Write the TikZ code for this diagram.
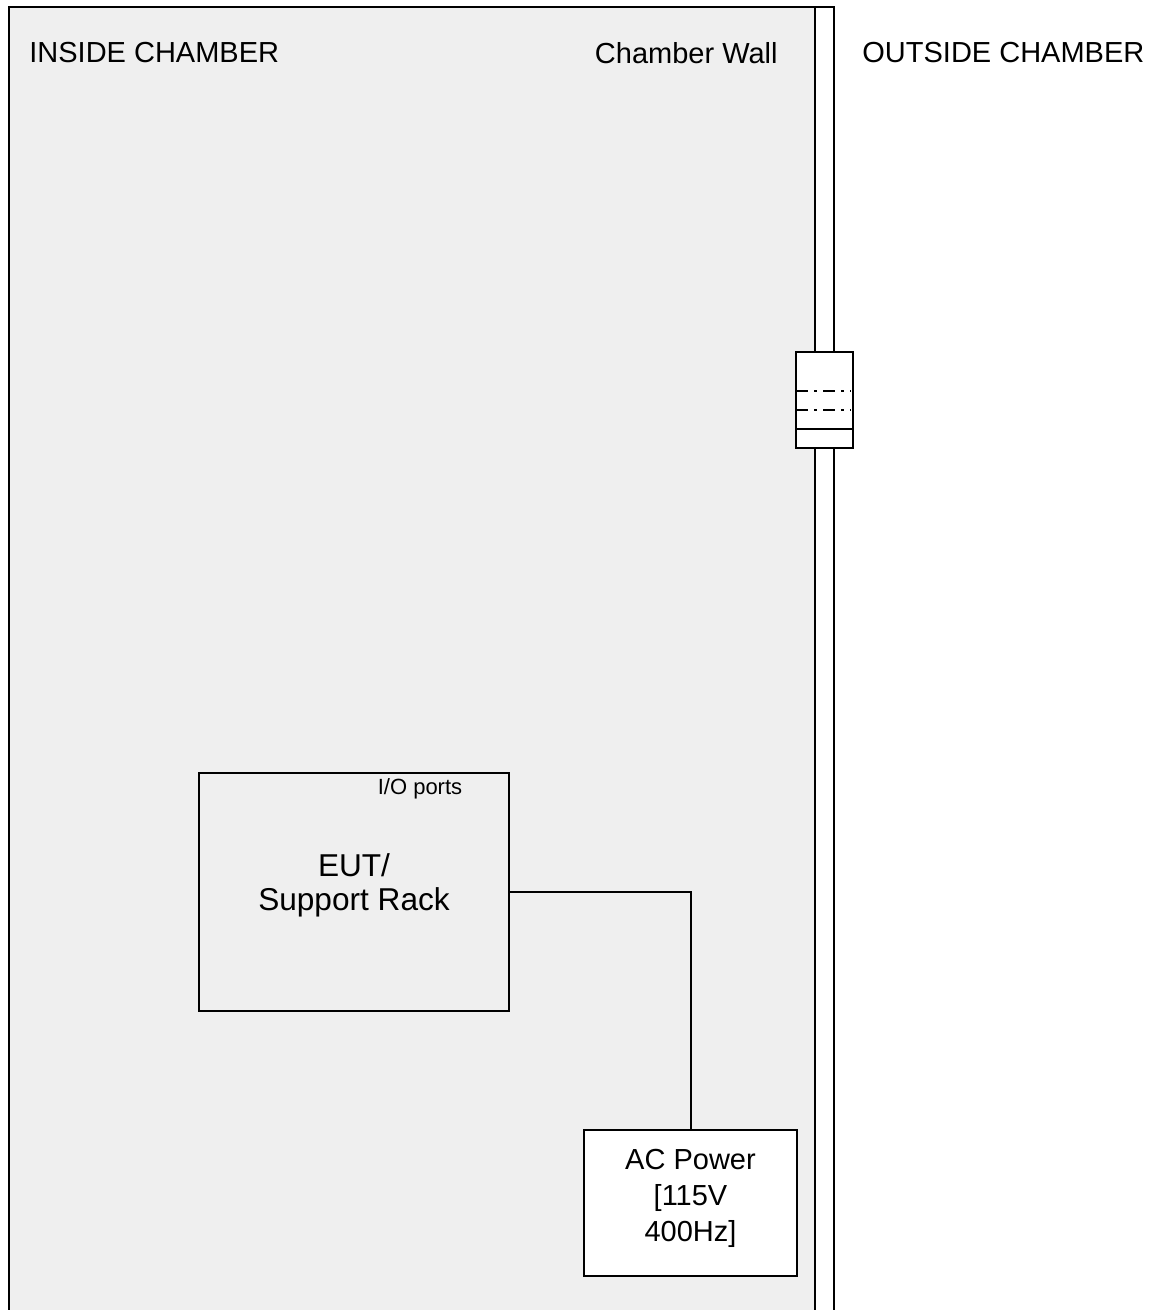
\documentclass[tikz,border=0pt]{standalone}
\usepackage{fontspec}
\setmainfont{Liberation Sans}
\usetikzlibrary{positioning,calc}

\definecolor{chambergray}{HTML}{EFEFEF}

\begin{document}
\begin{tikzpicture}[
    x=0.5pt, y=-0.5pt,
    box/.style={rectangle, draw, line width=1pt, align=center, inner sep=0pt},
    heading/.style={font=\fontsize{14.5}{17}\selectfont, inner sep=0pt},
    wire/.style={draw, line width=1pt},
    dashdot/.style={line width=1pt, dash pattern=on 6pt off 3pt on 1.5pt off 3pt}
]
\useasboundingbox (0,0) rectangle (1152,1310);

% Inside of the chamber
\fill[chambergray] (9,7) rectangle (815,1310);
\draw[line width=1pt] (9,1310) -- (9,7) -- (834,7) -- (834,1310);
\draw[line width=1pt] (815,7) -- (815,1310);

% Headings
\node[heading, anchor=west] (inside) at (29,53) {INSIDE CHAMBER};
\node[heading, anchor=east] (wall) at (778,53) {Chamber Wall};
\node[heading, anchor=west] (outside) at (862,53) {OUTSIDE CHAMBER};

% Feed-through in the wall
\node[box, fill=white, minimum width=28.5pt, minimum height=48pt] (feed) at (824.5,400) {};
\draw[line width=1pt] (796,429) -- (853,429);
\draw[dashdot] (796,391) -- (851,391);
\draw[dashdot] (796,410) -- (851,410);

% Equipment
\node[box, fill=chambergray, minimum width=155pt, minimum height=119pt,
      font=\fontsize{15.8}{17}\selectfont] (eut) at (354,892) {EUT/\\Support Rack\\[-7pt]};
\node[font=\fontsize{11}{13}\selectfont, inner sep=0pt] (io) at (420,789) {I/O ports};
\node[box, fill=white, minimum width=106.5pt, minimum height=73pt,
      font=\fontsize{14.5}{18}\selectfont] (ac) at (690.5,1203) {AC Power\\{[}115V\\400Hz{]}\\[-10pt]};

% Power cable
\draw[wire] (eut.east) -| (ac.north);

\end{tikzpicture}
\end{document}
